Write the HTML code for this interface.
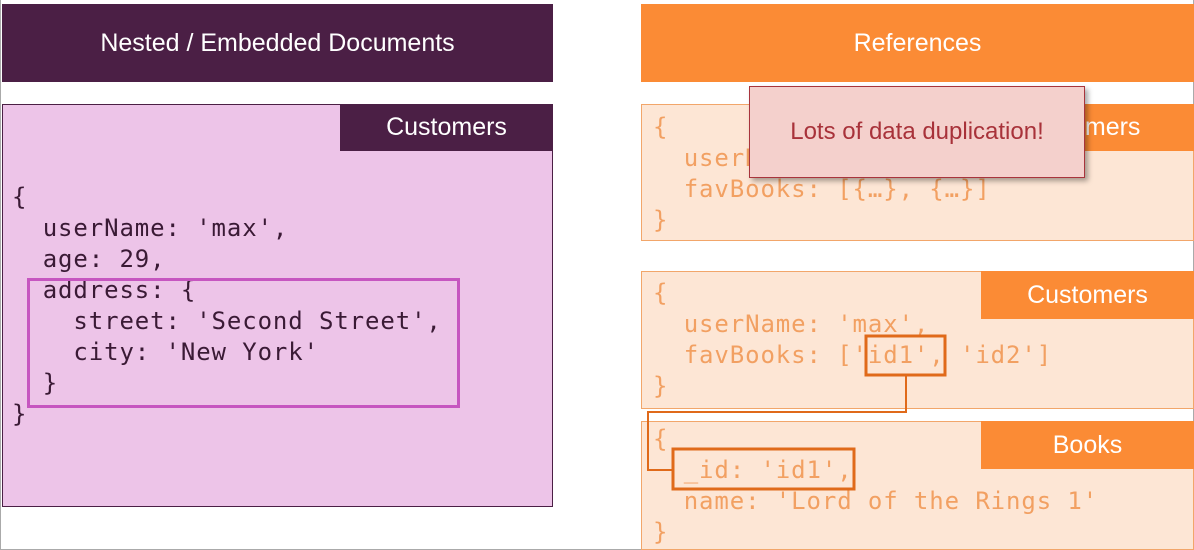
<!DOCTYPE html>
<html><head><style>
body{margin:0;width:1194px;height:550px;background:#fff;position:relative;overflow:hidden;font-family:"Liberation Sans",sans-serif}
div{position:absolute;box-sizing:border-box}
.mono{font-family:"DejaVu Sans Mono","Liberation Mono",monospace;font-size:24px;line-height:31px;white-space:pre;letter-spacing:0.9px}
.hd{color:#fff;font-size:25px;display:flex;align-items:center;justify-content:center}
</style></head><body>
<div style="left:0;top:0;width:1194px;height:550px;border:1px solid #aaa;border-top:none"></div>
<div class="hd" style="left:2px;top:4px;width:551px;height:78px;background:#4b1f45">Nested / Embedded Documents</div>
<div style="left:2px;top:104px;width:551px;height:403px;background:#edc4e8;border:1px solid #4b1f45"></div>
<div class="hd" style="left:340px;top:104px;width:213px;height:47px;background:#4b1f45">Customers</div>
<div class="mono" style="left:12px;top:182px;color:#3a1a35">{
  userName: 'max',
  age: 29,
  address: {
    street: 'Second Street',
    city: 'New York'
  }
}</div>
<div style="left:27px;top:278px;width:433px;height:130px;border:3px solid #c656c0"></div>

<div class="hd" style="left:641px;top:4px;width:553px;height:78px;background:#fb8b35">References</div>

<div style="left:641px;top:104px;width:553px;height:137px;background:#fde6d5;border:1px solid #f2a66a"></div>
<div class="hd" style="left:966px;top:104px;width:228px;height:47px;background:#fb8b35">Customers</div>
<div class="mono" style="left:653px;top:112px;color:#f2a062">{
  userName: 'max',
  favBooks: [{…}, {…}]
}</div>

<div style="left:641px;top:271px;width:553px;height:138px;background:#fde6d5;border:1px solid #f2a66a"></div>
<div class="hd" style="left:981px;top:271px;width:213px;height:48px;background:#fb8b35">Customers</div>
<div class="mono" style="left:653px;top:278px;color:#f2a062">{
  userName: 'max',
  favBooks: ['id1', 'id2']
}</div>

<div style="left:641px;top:421px;width:553px;height:129px;background:#fde6d5;border:1px solid #f2a66a"></div>
<div class="hd" style="left:981px;top:421px;width:213px;height:48px;background:#fb8b35">Books</div>
<div class="mono" style="left:653px;top:424px;color:#f2a062">{
  _id: 'id1',
  name: 'Lord of the Rings 1'
}</div>

<svg style="position:absolute;left:0;top:0" width="1194" height="550">
<g fill="none" stroke="#e06a1a">
<rect x="866" y="336" width="79" height="39" stroke-width="3"/>
<rect x="673" y="449" width="181" height="40" stroke-width="3"/>
<polyline points="906,375 906,412 648,412 648,470 673,470" stroke-width="2"/>
</g></svg>

<div style="left:749px;top:86px;width:336px;height:92px;background:#f4d0cc;border:1px solid #a8343c;box-shadow:3px 3px 5px rgba(0,0,0,.35);display:flex;align-items:center;justify-content:center;color:#a8323a;font-size:24px">Lots of data duplication!</div>
</body></html>
